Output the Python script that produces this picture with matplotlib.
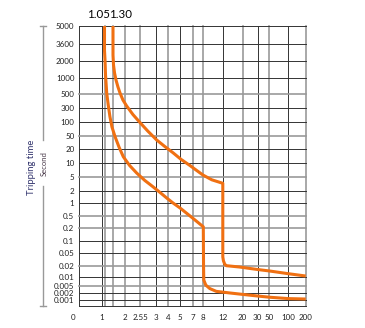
import numpy as np
import matplotlib
matplotlib.use('Agg')
import matplotlib.pyplot as plt
from matplotlib.lines import Line2D
from matplotlib.transforms import ScaledTranslation

# tripping curve of a breaker
x_ticks = [0, 1, 2, 2.55, 3, 4, 5, 7, 8, 12, 20, 30, 50, 100, 200]
x_ticklabels = ['0', '1', '2', '2.55', '3', '4', '5', '7', '8', '12', '20', '30', '50', '100', '200']
y_ticks = [0.001, 0.002, 0.005, 0.01, 0.02, 0.05, 0.1, 0.2, 0.5, 1, 2, 5, 10, 20, 50, 100, 300, 500, 1000, 2000, 3600, 5000]
y_ticklabels = ['0.001', '0.002', '0.005', '0.01', '0.02', '0.05', '0.1', '0.2', '0.5', '1', '2', '5',
                '10', '20', '50', '100', '300', '500', '1000', '2000', '3600', '5000']

# upper curve (1.30 In)
upper_x = [1.30, 1.30, 1.33, 1.39, 1.475, 1.59, 1.71, 1.88, 2.06, 2.29, 2.55, 2.77, 3.08, 3.76, 4.42,
           5.16, 6.57, 7.35, 7.97, 9.7, 11.9, 11.9, 12.05, 12.6, 13.3, 18.6, 30, 50, 100, 200]
upper_y = [5000, 2565, 1765, 1294, 938, 719, 531, 414, 329, 207, 98, 68, 40.8, 25.3, 17.3,
           12.6, 9.1, 7.4, 5.7, 4.4, 3.65, 0.041, 0.032, 0.024, 0.0207, 0.0191, 0.0168, 0.0155, 0.013, 0.0109]

# lower curve (1.05 In)
lower_x = [1.05, 1.05, 1.065, 1.08, 1.115, 1.16, 1.21, 1.27, 1.42, 1.65, 1.90, 2.17, 2.43, 2.69, 2.92,
           3.35, 3.89, 4.42, 5.0, 6.9, 8.0, 8.05, 8.1, 8.5, 9.3, 10.6, 14.8, 20, 30, 50, 100, 200]
lower_y = [5000, 3000, 2100, 1180, 531, 343, 176, 82, 48.4, 24.6, 14.5, 9.1, 6.4, 4.25, 2.92,
           1.88, 1.42, 1.0, 0.81, 0.46, 0.23, 0.02, 0.0083, 0.0055, 0.0039, 0.0027, 0.002, 0.0018,
           0.00157, 0.0014, 0.0012, 0.00114]

# non uniform grid of the original chart (value -> pixel)
grid_xv = [0, 1, 1.05, 1.3, 2, 2.55, 3, 4, 5, 7, 8, 12, 20, 30, 50, 100, 200]
grid_xp = [78.5, 102, 104.5, 113, 125, 140, 155.7, 168, 180, 192.7, 203.3, 223.3, 242.7, 257.7, 269.3, 288.3, 305.7]
grid_yv = [0] + y_ticks
grid_yp = [306, 300, 293, 286, 277, 266, 253, 241, 228, 216, 203, 191, 177, 163, 149, 136, 122, 108, 94, 78, 61, 44, 26]
grid_yh = [306 - p for p in grid_yp]

dark_x = [0, 1, 3, 5, 12, 30, 100]
dark_y = [0, 0.001, 0.002, 0.01, 0.05, 0.1, 1, 2, 10, 20, 100, 300, 1000, 2000, 3600, 5000]

W, H = 365, 328
fig = plt.figure(figsize=(W / 100, H / 100), dpi=100)
ax = fig.add_axes([78.5 / W, 1 - 306 / H, (305.7 - 78.5) / W, (306 - 26) / H])

ax.set_xscale('function', functions=(lambda v: np.interp(v, grid_xv, grid_xp),
                                     lambda p: np.interp(p, grid_xp, grid_xv)))
ax.set_yscale('function', functions=(lambda v: np.interp(v, grid_yv, grid_yh),
                                     lambda p: np.interp(p, grid_yh, grid_yv)))
ax.set_xlim(0, 200)
ax.set_ylim(0, 5000)

for v in grid_xv:
    if v in dark_x:
        ax.axvline(v, color='#333333', lw=0.7, clip_on=False, zorder=1)
    else:
        ax.axvline(v, color='#999999', lw=1.2, clip_on=False, zorder=1)
for v in grid_yv:
    if v in dark_y:
        ax.axhline(v, color='#333333', lw=0.7, clip_on=False, zorder=1)
    else:
        ax.axhline(v, color='#999999', lw=1.2, clip_on=False, zorder=1)

ax.plot(upper_x, upper_y, color='#f07012', lw=2.2, solid_joinstyle='round', solid_capstyle='butt', zorder=3)
ax.plot(lower_x, lower_y, color='#f07012', lw=2.2, solid_joinstyle='round', solid_capstyle='butt', zorder=3)

for s in ax.spines.values():
    s.set_visible(False)

ax.set_xticks(x_ticks)
ax.set_xticklabels(x_ticklabels, fontsize=5.8, fontfamily='Lato', color='#222222')
ax.set_yticks(y_ticks)
ax.set_yticklabels(y_ticklabels, fontsize=5.8, fontfamily='Lato', color='#222222')
ax.tick_params(length=0)
ax.tick_params(axis='x', pad=6)
ax.tick_params(axis='y', pad=3)
ax.minorticks_off()
# the "0" sits a little left of the frame in the original
lbl0 = ax.get_xticklabels()[0]
lbl0.set_transform(lbl0.get_transform() + ScaledTranslation(-0.055, 0, fig.dpi_scale_trans))

ax.annotate('1.05', xy=(1.05, 1), xycoords=('data', 'axes fraction'), xytext=(-6, 11),
            textcoords='offset pixels', ha='center', va='center', fontsize=8.3, fontfamily='Lato')
ax.annotate('1.30', xy=(1.30, 1), xycoords=('data', 'axes fraction'), xytext=(8, 11),
            textcoords='offset pixels', ha='center', va='center', fontsize=8.3, fontfamily='Lato')

# axis title and the thin bracket line beside it
fig.text(32 / W, 1 - 167 / H, 'Tripping time', rotation=90, ha='center', va='center',
         fontsize=6.8, fontfamily='Lato', color='#33356e')
fig.text(44 / W, 1 - 164 / H, 'Second', rotation=90, ha='center', va='center',
         fontsize=5.5, fontfamily='Lato', color='#4a3a4a')
for y0, y1 in [(26, 140), (186, 306)]:
    fig.add_artist(Line2D([43 / W, 43 / W], [1 - y0 / H, 1 - y1 / H], color='#999999', lw=1))
for y0 in [26, 306]:
    fig.add_artist(Line2D([40 / W, 46 / W], [1 - y0 / H, 1 - y0 / H], color='#999999', lw=1))

fig.savefig('out.png', dpi=100)
